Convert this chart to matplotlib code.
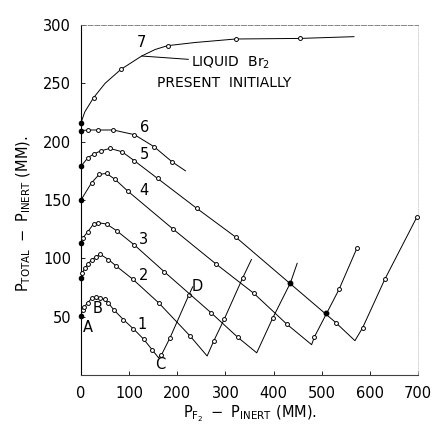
import matplotlib.pyplot as plt

plt.switch_backend("Agg")
plt.rcParams['font.family'] = 'DejaVu Sans'
plt.rcParams['mathtext.fontset'] = 'dejavusans'

# Curves (x = P_F2 - P_inert, y = P_total - P_inert, mm)
c1_x = [0, 3.5, 7, 14, 22, 31, 40, 49, 57, 69, 88, 109, 130, 148, 161, 167, 185, 224, 232]
c1_y = [51, 55.5, 58.5, 62, 65.7, 66.5, 65.7, 64.8, 61.5, 55.5, 47.5, 39.5, 30.8, 21.5, 14.8, 17.1, 32, 68.5, 75.6]
c1_marks = [i for i in range(len(c1_x)) if i not in (14, 18)]

c2_x = [0, 3, 8, 14, 22, 31, 40, 57, 73, 107, 161, 226, 262, 276, 298, 336, 354]
c2_y = [83, 87.7, 91.5, 95, 98.6, 101.4, 103.4, 99, 93.4, 82.3, 62, 33.7, 16.3, 29.4, 48.3, 83.4, 99]
c2_marks = [i for i in range(len(c2_x)) if i not in (12, 16)]

c3_x = [0, 4, 14, 26, 36, 53, 74, 111, 173, 270, 326, 365, 398, 435, 449]
c3_y = [113, 117.5, 122.8, 129.4, 130.5, 129.4, 123.7, 111.4, 88.5, 53.4, 32.2, 19, 48.6, 79, 95.7]
c3_marks = [i for i in range(len(c3_x)) if i not in (11, 13, 14)]

c4_x = [0, 22, 38, 53, 71, 97, 192, 280, 359, 428, 479, 485, 536, 573]
c4_y = [150, 164.8, 172, 172.8, 167.6, 157.7, 124.8, 95.3, 70, 43.4, 26, 32.8, 73.4, 108.6]
c4_marks = [i for i in range(len(c4_x)) if i != 10]

c5_x = [0, 14, 26, 42, 60, 85, 111, 159, 240, 322, 529, 569, 585, 631, 698]
c5_y = [179, 186, 189.4, 192.2, 194.2, 191.4, 183.6, 168.5, 143, 118, 45, 29.4, 40.5, 82, 135.6]
c5_marks = [i for i in range(len(c5_x)) if i != 11]

c6_x = [0, 15, 35, 67, 111, 152, 189, 217]
c6_y = [209.5, 210, 210, 210, 206, 195.6, 182.8, 175]
c6_marks = [0, 1, 2, 3, 4, 5, 6]

c7_x = [0, 8, 26, 50, 83, 126, 154, 180, 237, 321, 455, 567]
c7_y = [216.2, 225.6, 237.6, 250, 262, 273.4, 279, 282.3, 285, 288, 288.5, 290]
c7_marks = [0, 2, 4, 7, 9, 10]

# filled points where lines cross
filled_x = [435, 508]
filled_y = [79, 52.8]

# curve numbers and letters
num_text = ['1', '2', '3', '4', '5', '6', '7']
num_x = [126, 130, 130, 131, 131, 132, 126]
num_y = [43.7, 85, 116, 158, 189, 212, 285]
let_text = ['A', 'B', 'C', 'D']
let_x = [14, 35, 165, 241]
let_y = [41, 57, 9.4, 76]

x_ticks = [0, 100, 200, 300, 400, 500, 600, 700]
y_ticks = [50, 100, 150, 200, 250, 300]

curves = [
    (c1_x, c1_y, c1_marks),
    (c2_x, c2_y, c2_marks),
    (c3_x, c3_y, c3_marks),
    (c4_x, c4_y, c4_marks),
    (c5_x, c5_y, c5_marks),
    (c6_x, c6_y, c6_marks),
    (c7_x, c7_y, c7_marks),
]

fig = plt.figure(figsize=(4.37, 4.29), dpi=100)
ax = fig.add_axes([81 / 437, 54 / 429, 337 / 437, 350 / 429])

for x, y, marks in curves:
    ax.plot(x, y, color='black', lw=0.7, marker='o', ms=2.8, mfc='white',
            mec='black', mew=0.7, markevery=marks, clip_on=False, zorder=3)
    ax.plot(x[0], y[0], 'o', color='black', ms=3, clip_on=False, zorder=4)

ax.plot(filled_x, filled_y, 'o', color='black', ms=3.2, ls='none', zorder=4)

for t, x, y in zip(num_text, num_x, num_y):
    ax.text(x, y, t, fontsize=10.5, ha='center', va='center')
for t, x, y in zip(let_text, let_x, let_y):
    ax.text(x, y, t, fontsize=10.5, ha='center', va='center')

ax.annotate('LIQUID  Br$_2$', xy=(c7_x[5], c7_y[5]), xytext=(229, 268),
            fontsize=10, va='center', ha='left',
            arrowprops=dict(arrowstyle='-', lw=0.7, color='black', shrinkA=0, shrinkB=0))
ax.text(158, 250, 'PRESENT  INITIALLY', fontsize=10, va='center', ha='left')

ax.set_xlim(0, 700)
ax.set_ylim(0, 300)
ax.set_xticks(x_ticks)
ax.set_yticks(y_ticks)
ax.tick_params(direction='in', length=3, width=0.6, labelsize=10.5)
ax.tick_params(axis='x', pad=8)
ax.tick_params(axis='y', pad=7)

ax.spines['left'].set_linewidth(0.8)
ax.spines['bottom'].set_linewidth(0.8)
ax.spines['bottom'].set_color('0.25')
ax.spines['top'].set_linewidth(0.6)
ax.spines['top'].set_color('0.45')
ax.spines['top'].set_linestyle((0, (6, 2)))
ax.spines['right'].set_linewidth(0.6)
ax.spines['right'].set_color('0.8')
ax.spines['right'].set_linestyle(':')

fig.text(250 / 437, 1 - 414 / 429, r'$\mathrm{P_{F_2}\ -\ P_{INERT}}$ (MM).',
         fontsize=10.5, ha='center', va='center')
fig.text(24 / 437, 1 - 214 / 429, r'$\mathrm{P_{TOTAL}\ -\ P_{INERT}}$ (MM).',
         fontsize=10.5, ha='center', va='center', rotation=90)

fig.savefig('out.png', dpi=100)
